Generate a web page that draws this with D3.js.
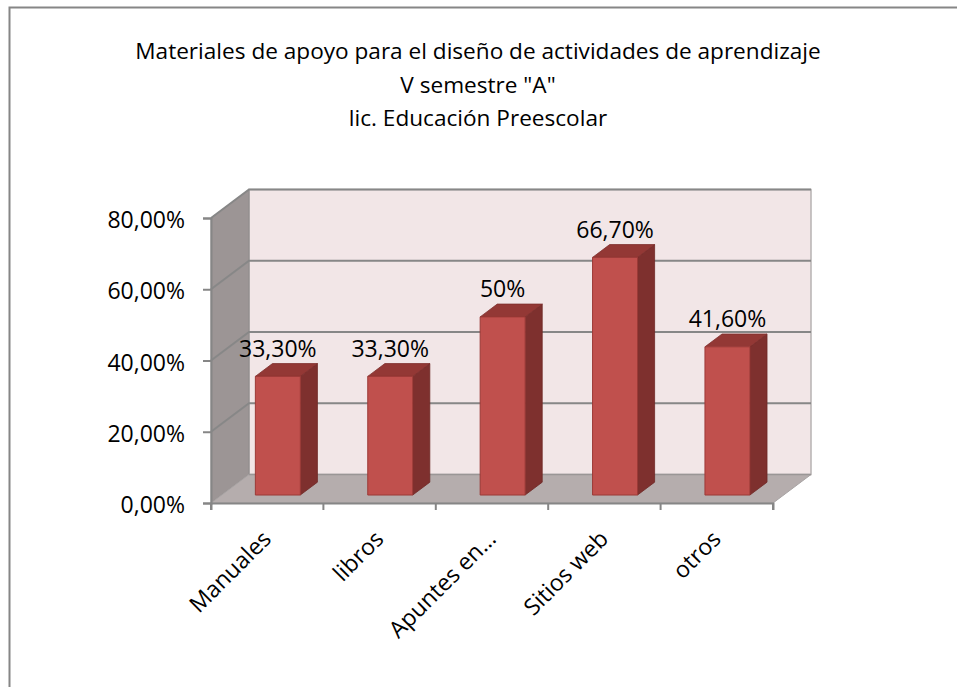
<!DOCTYPE html>
<html><head><meta charset="utf-8">
<script src="https://cdn.jsdelivr.net/npm/d3@7"></script>
<style>body{margin:0;background:#fff}svg{display:block}text{font-family:"Open Sans",sans-serif;fill:#000}</style>
</head><body><svg id="c" width="957" height="687"></svg>
<script>
const categories = ["Manuales", "libros", "Apuntes en…", "Sitios web", "otros"];
const values = [0.333, 0.333, 0.50, 0.667, 0.416];
const valueLabels = ["33,30%", "33,30%", "50%", "66,70%", "41,60%"];
const yTicks = [0, 0.2, 0.4, 0.6, 0.8];
const titleLines = ["Materiales de apoyo para el diseño de actividades de aprendizaje", "V semestre \"A\"", "lic. Educación Preescolar"];

const svg = d3.select("#c");
const fmt = v => d3.format(".2f")(v*100).replace(".", ",") + "%";

svg.append("rect").attr("x",9.5).attr("y",7.5).attr("width",1000).attr("height",1000)
  .attr("fill","#fff").attr("stroke","#868686").attr("stroke-width",2);

const x = d3.scaleBand().domain(categories).range([211, 773]);
const y = d3.scaleLinear().domain([0, 0.8]).range([503, 218]);
const DX = 38, DY = -28.5;
const P = (px, py, d) => [px + d*DX, py + d*DY];
const poly = pts => "M" + pts.map(p => p.join(",")).join("L") + "Z";

// walls
const x0 = x.range()[0], x1 = x.range()[1];
svg.append("path").attr("d", poly([P(x0,y(0),1),P(x1,y(0),1),P(x1,y(0.8),1),P(x0,y(0.8),1)]))
  .attr("fill","#F2E6E7").attr("stroke","#B7B2B2").attr("stroke-width",1.5);
svg.append("path").attr("d", poly([P(x0,y(0),0),P(x0,y(0),1),P(x0,y(0.8),1),P(x0,y(0.8),0)]))
  .attr("fill","#9C9595").attr("stroke","#8E8A8A").attr("stroke-width",1);
svg.append("path").attr("d", poly([P(x0,y(0),0),P(x1,y(0),0),P(x1,y(0),1),P(x0,y(0),1)]))
  .attr("fill","#B5ADAD").attr("stroke","#A7A3A3").attr("stroke-width",1);

// gridlines
yTicks.forEach(t => {
  if (t === 0) return;
  const a = P(x0, y(t), 0), b = P(x0, y(t), 1), c = P(x1, y(t), 1);
  svg.append("path").attr("d", `M${a}L${b}L${c}`).attr("fill","none")
    .attr("stroke","#878787").attr("stroke-width",2);
});
{
  const b = P(x0, y(0), 1), c = P(x1, y(0), 1);
  svg.append("path").attr("d", `M${b}L${c}`).attr("stroke","#9A9696").attr("stroke-width",1.5);
}

// axes
const yAxis = d3.axisLeft(y).tickValues(yTicks).tickFormat(fmt).tickSize(8).tickPadding(18);
const gy = svg.append("g").attr("transform","translate(211,0)").call(yAxis);
gy.select(".domain").attr("stroke","#868686").attr("stroke-width",2);
gy.selectAll(".tick line").attr("stroke","#868686").attr("stroke-width",2);
gy.selectAll("text").attr("font-size",23).attr("font-family","Open Sans").attr("fill","#000").attr("dy","0.42em");

const xAxis = d3.axisBottom(x).tickSize(7).tickFormat("");
const gx = svg.append("g").attr("transform","translate(0,503)").call(xAxis);
gx.select(".domain").attr("stroke","#868686").attr("stroke-width",2);
gx.selectAll(".tick").remove();
const edges = categories.map(c => x(c)).concat([x1]);
gx.selectAll(".edge").data(edges).join("line").attr("x1",d=>d).attr("x2",d=>d)
  .attr("y1",0).attr("y2",7).attr("stroke","#868686").attr("stroke-width",2);

// bars
const d0 = 0.28, d1 = 0.73, bw = 0.4;
categories.forEach((c, i) => {
  const cx = x(c) + x.bandwidth()/2;
  const l = cx - x.bandwidth()*bw/2, r = cx + x.bandwidth()*bw/2;
  const v = values[i];
  const g = svg.append("g");
  g.append("path").attr("d", poly([P(r,y(0),d0),P(r,y(0),d1),P(r,y(v),d1),P(r,y(v),d0)]))
    .attr("fill","#7E302E").attr("stroke","#6E2826").attr("stroke-width",0.8);
  g.append("path").attr("d", poly([P(l,y(v),d0),P(r,y(v),d0),P(r,y(v),d1),P(l,y(v),d1)]))
    .attr("fill","#933835").attr("stroke","#7E2E2C").attr("stroke-width",0.8);
  g.append("path").attr("d", poly([P(l,y(0),d0),P(r,y(0),d0),P(r,y(v),d0),P(l,y(v),d0)]))
    .attr("fill","#C0504D").attr("stroke","#9C3A37").attr("stroke-width",1);
  const lx = P(cx, y(v), d0)[0], ly = P(cx, y(v), d1)[1];
  svg.append("text").attr("x", lx).attr("y", ly - 7).attr("text-anchor","middle")
    .attr("font-size",23).text(valueLabels[i]);
});

// category labels
categories.forEach(c => {
  const cx = x(c) + x.bandwidth()/2;
  svg.append("text").attr("text-anchor","end").attr("font-size",23)
    .attr("transform",`translate(${cx-6},${529}) rotate(-45)`).attr("dy","0.7em").text(c);
});

// title
svg.append("g").selectAll("text").data(titleLines).join("text")
  .attr("x",478).attr("y",(d,i)=>59 + i*33.5).attr("text-anchor","middle").attr("font-size",22.6)
  .text(d=>d);
</script></body></html>
